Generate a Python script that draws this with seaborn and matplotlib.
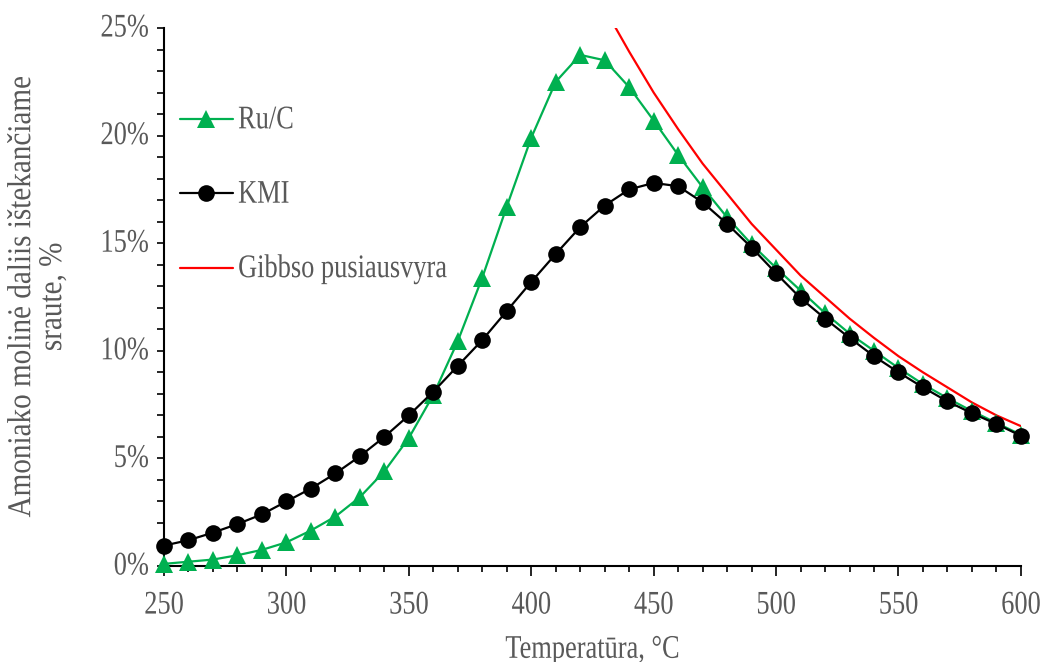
import matplotlib
matplotlib.use("Agg")
import matplotlib.pyplot as plt
import seaborn as sns
import pandas as pd
from matplotlib.ticker import MultipleLocator, FuncFormatter
from matplotlib.patheffects import AbstractPathEffect
from matplotlib.transforms import Affine2D

temps = [250, 260, 270, 280, 290, 300, 310, 320, 330, 340, 350, 360, 370, 380,
         390, 400, 410, 420, 430, 440, 450, 460, 470, 480, 490, 500, 510, 520,
         530, 540, 550, 560, 570, 580, 590, 600]
ru_c = [0.1, 0.2, 0.3, 0.5, 0.75, 1.1, 1.65, 2.3, 3.2, 4.4, 5.95, 7.95, 10.45, 13.4,
        16.7, 19.9, 22.5, 23.75, 23.5, 22.25, 20.7, 19.1, 17.6, 16.2, 14.95, 13.85,
        12.8, 11.75, 10.8, 10.0, 9.2, 8.45, 7.8, 7.2, 6.65, 6.1]
kmi = [0.95, 1.2, 1.55, 1.95, 2.4, 3.0, 3.6, 4.3, 5.1, 6.0, 7.0, 8.1, 9.3, 10.5,
       11.85, 13.2, 14.5, 15.75, 16.75, 17.5, 17.8, 17.65, 16.9, 15.9, 14.8, 13.6,
       12.45, 11.5, 10.6, 9.75, 9.0, 8.3, 7.65, 7.1, 6.6, 6.05]
gibbs_temps = [430, 440, 450, 460, 470, 480, 490, 500, 510, 520, 530, 540, 550,
               560, 570, 580, 590, 600]
gibbs = [25.9, 23.9, 22.0, 20.3, 18.7, 17.3, 15.9, 14.7, 13.5, 12.5, 11.5, 10.6,
         9.75, 9.0, 8.3, 7.6, 7.0, 6.5]

labels = ["Ru/C", "KMI", "Gibbso pusiausvyra"]
xlabel = "Temperatūra, °C"
ylabel = "Amoniako molinė daliis ištekančiame\nsraute, %"


class Stretch(AbstractPathEffect):
    """Stretch glyphs along their own vertical axis (about the baseline)."""
    def __init__(self, sy):
        super().__init__()
        self.sy = sy

    def draw_path(self, renderer, gc, tpath, affine, rgbFace=None):
        renderer.draw_path(gc, tpath, Affine2D().scale(1, self.sy) + affine, rgbFace)


sns.set_style("white")
plt.rcParams["font.family"] = ["Liberation Serif", "DejaVu Serif"]
text_color = "#595959"

fig = plt.figure(figsize=(10.46, 6.62), dpi=100)
ax = fig.add_axes([0.1568, 0.145, 0.976 - 0.1568, 0.9577 - 0.145])

df_ru = pd.DataFrame({"T": temps, "v": ru_c})
df_kmi = pd.DataFrame({"T": temps, "v": kmi})
df_g = pd.DataFrame({"T": gibbs_temps, "v": gibbs})

sns.lineplot(data=df_ru, x="T", y="v", ax=ax, color="#00B050", marker="^",
             markersize=13, markeredgewidth=0, linewidth=1.6, label=labels[0],
             clip_on=False, zorder=3)
sns.lineplot(data=df_kmi, x="T", y="v", ax=ax, color="black", marker="o",
             markersize=12, markeredgewidth=0, linewidth=1.6, label=labels[1],
             clip_on=False, zorder=4)
sns.lineplot(data=df_g, x="T", y="v", ax=ax, color="#FF0000", linewidth=1.6,
             label=labels[2], zorder=2)

ax.set_xlim(250, 600)
ax.set_ylim(0, 25)
ax.xaxis.set_major_locator(MultipleLocator(50))
ax.xaxis.set_minor_locator(MultipleLocator(10))
ax.yaxis.set_major_locator(MultipleLocator(5))
ax.yaxis.set_minor_locator(MultipleLocator(1))
ax.yaxis.set_major_formatter(FuncFormatter(lambda v, p: f"{v:.0f}%"))

for s in ["top", "right"]:
    ax.spines[s].set_visible(False)
for s in ["left", "bottom"]:
    ax.spines[s].set_color("black")
    ax.spines[s].set_linewidth(1.5)

ax.tick_params(axis="both", which="both", direction="out", color="black",
               width=1.2, labelsize=19, labelcolor=text_color,
               bottom=True, left=True, top=False, right=False)
ax.tick_params(axis="x", which="major", length=7, pad=15)
ax.tick_params(axis="x", which="minor", length=4)
ax.tick_params(axis="y", which="major", length=5, pad=6)
ax.tick_params(axis="y", which="minor", length=5)

ax.set_xlabel(xlabel, fontsize=19, color=text_color, labelpad=16)
ax.set_ylabel(ylabel, fontsize=21, color=text_color, labelpad=24,
              linespacing=1.25)

leg = ax.legend(loc="upper left", bbox_to_anchor=(-0.009, 0.892), frameon=False,
                fontsize=19, labelspacing=1.93, handlelength=2.0,
                handletextpad=0.2)
for t in leg.get_texts():
    t.set_color(text_color)
    t.set_path_effects([Stretch(1.25)])

fig.canvas.draw()
for t in ax.get_xticklabels() + ax.get_yticklabels():
    t.set_path_effects([Stretch(1.25)])
ax.xaxis.label.set_path_effects([Stretch(1.25)])
ax.yaxis.label.set_path_effects([Stretch(1.14)])

fig.savefig("out.png", dpi=100)
